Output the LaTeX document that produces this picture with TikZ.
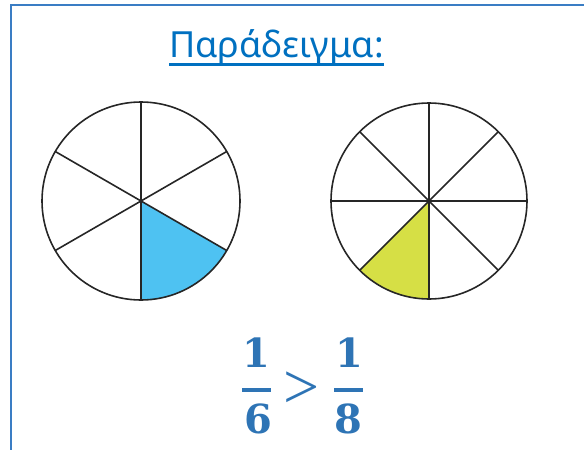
\documentclass[tikz,border=0pt]{standalone}
\usepackage{fontspec}
\newfontfamily\titlefont{Noto Sans}
\newfontfamily\digitfont{DejaVu Serif}
\newfontfamily\relfont{Liberation Serif}
\definecolor{framecol}{HTML}{3A7DC4}
\definecolor{titlecol}{HTML}{0070C0}
\definecolor{fraccol}{HTML}{2E74B5}
\definecolor{slicecyan}{HTML}{4EC2F2}
\definecolor{sliceyellow}{HTML}{D6DF45}
\tikzset{
  frameline/.style={draw=framecol, line width=2.2pt},
  pieline/.style={draw=black!85, line width=1.6pt, line join=round},
  digit/.style={inner sep=0pt, anchor=base, text=fraccol, font=\digitfont\bfseries\fontsize{40}{40}\selectfont},
  fracbar/.style={draw=fraccol, line width=3.5pt},
}
\begin{document}
\begin{tikzpicture}[x=1pt,y=-1pt]
\useasboundingbox (0,0) rectangle (584,450);
% frame
\draw[frameline] (11,450) -- (11,5.3) -- (584,5.3);
% title
\node[inner sep=0pt, anchor=base, text=titlecol, font=\titlefont\fontsize{36}{36}\selectfont] (title) at (276.5,57.3) {Παράδειγμα:};
\draw[draw=titlecol, line width=3pt] ([yshift=-7pt]title.base west) -- ([yshift=-7pt]title.base east);
% left pie (sixths); y axis points down, so angle 90 is straight down
\coordinate (lc) at (141,201);
\fill[slicecyan] (lc) -- ++(90:99) arc[start angle=90, end angle=30, radius=99] -- cycle;
\draw[pieline] (lc) circle[radius=99];
\foreach \a in {90,30,-30,-90,-150,150}
  \draw[pieline] (lc) -- ++(\a:99);
% right pie (eighths)
\coordinate (rc) at (429,201);
\fill[sliceyellow] (rc) -- ++(90:98) arc[start angle=90, end angle=135, radius=98] -- cycle;
\draw[pieline] (rc) circle[radius=98];
\foreach \a in {0,45,...,315}
  \draw[pieline] (rc) -- ++(\a:98);
% fractions
\node[digit] (n1) at (256.5,367) {1};
\node[digit] (d1) at (258,433) {6};
\coordinate (b1a) at (242,390);
\coordinate (b1b) at (271,390);
\draw[fracbar] (b1a) -- (b1b);
\node[inner sep=0pt, text=fraccol, font=\relfont\fontsize{64}{64}\selectfont] (gt) at (302,390) {>};
\node[digit] (n2) at (349,367) {1};
\node[digit] (d2) at (348.5,433) {8};
\coordinate (b2a) at (334,390);
\coordinate (b2b) at (363,390);
\draw[fracbar] (b2a) -- (b2b);
\end{tikzpicture}
\end{document}
